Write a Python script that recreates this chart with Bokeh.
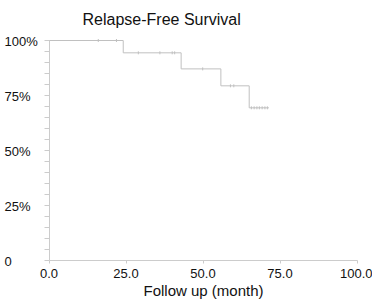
import numpy as np
from bokeh.plotting import figure
from bokeh.models import (FixedTicker, PrintfTickFormatter, CustomJSTickFormatter, Label,
                          Range1d, LinearAxis, Grid)
from bokeh.embed import file_html
from bokeh.resources import INLINE

# ---- data ----
step_times = [0.0, 24.1, 42.9, 55.8, 65.0, 71.4]
step_surv = [100.0, 94.4, 87.1, 79.4, 69.4, 69.4]
censor_times = [16.0, 21.9, 29.0, 36.0, 40.0, 40.8, 49.9, 58.9, 60.0,
                65.7, 66.6, 67.5, 68.3, 69.2, 70.1, 70.9]
x_ticks = [0, 25, 50, 75, 100]
y_ticks = [0, 25, 50, 75, 100]
y_tick_labels = ["0", "25%", "50%", "75%", "100%"]
title_text = "Relapse-Free Survival"
x_title = "Follow up (month)"

FONT = "Liberation Sans"
AXIS_COL = "#cccccc"
LINE_COL = "#c0c0c0"
TEXT_COL = "#111111"

# layout: whole canvas is the frame; axes are pinned at data 0
W, H = 372, 300
X0_PX, X100_PX = 48.5, 356.5
Y100_PX, Y0_PX = 40.0, 260.0
sx = (X100_PX - X0_PX) / 100.0
sy = (Y0_PX - Y100_PX) / 100.0
XMIN = -X0_PX / sx
XMAX = XMIN + W / sx
YMAX = 100 + Y100_PX / sy
YMIN = YMAX - H / sy


def px_to_x(px):
    return XMIN + px / sx


def py_to_y(py):
    return YMAX - py / sy


p = figure(width=W, height=H, output_backend="svg", toolbar_location=None,
           x_range=Range1d(XMIN, XMAX), y_range=Range1d(YMIN, YMAX),
           x_axis_location=None, y_axis_location=None, min_border=0)
p.outline_line_color = None
p.title.visible = False
# remove any grids
p.center = [r for r in p.center if not isinstance(r, Grid)]

# x axis
xa = LinearAxis(fixed_location=0, bounds=(0, 100))
xa.ticker = FixedTicker(ticks=x_ticks)
xa.formatter = PrintfTickFormatter(format="%.1f")
xa.axis_line_color = AXIS_COL
xa.major_tick_line_color = AXIS_COL
xa.major_tick_in = 0
xa.major_tick_out = 3
xa.minor_tick_line_color = None
xa.major_label_text_font = FONT
xa.major_label_text_font_size = "13px"
xa.major_label_text_color = TEXT_COL
xa.major_label_standoff = 5
xa.axis_label = x_title
xa.axis_label_text_font = FONT
xa.axis_label_text_font_size = "15px"
xa.axis_label_text_font_style = "normal"
xa.axis_label_text_color = TEXT_COL
xa.axis_label_standoff = 1
p.add_layout(xa, "below")

# y axis
ya = LinearAxis(fixed_location=0, bounds=(0, 100))
minor = [v for v in range(0, 101, 5) if v not in y_ticks]
ya.ticker = FixedTicker(ticks=y_ticks, minor_ticks=minor)
ya.formatter = CustomJSTickFormatter(code="return ''")
ya.axis_line_color = AXIS_COL
ya.major_tick_line_color = AXIS_COL
ya.minor_tick_line_color = AXIS_COL
ya.major_tick_in = 0
ya.major_tick_out = 5
ya.minor_tick_in = 0
ya.minor_tick_out = 5
p.add_layout(ya, "left")

for v, t in zip(y_ticks, y_tick_labels):
    p.add_layout(Label(x=px_to_x(4), y=v, text=t, text_align="left",
                       text_baseline="middle", y_offset=-1, text_font=FONT,
                       text_font_size="13px", text_color=TEXT_COL))

p.add_layout(Label(x=px_to_x(82), y=py_to_y(18.5), text=title_text, text_align="left",
                   text_baseline="alphabetic", text_font=FONT, text_font_size="16px",
                   text_color=TEXT_COL))

# curve
p.step(step_times, step_surv, mode="after", line_color=LINE_COL, line_width=1)

st = np.array(step_times)
sv = np.array(step_surv)
idx = np.searchsorted(st, np.array(censor_times), side="right") - 1
censor_surv = sv[idx]
p.scatter(censor_times, censor_surv, marker="dash", angle=np.pi / 2, size=3,
          line_color=LINE_COL, line_width=1)

open("out.html", "w").write(file_html(p, INLINE))
